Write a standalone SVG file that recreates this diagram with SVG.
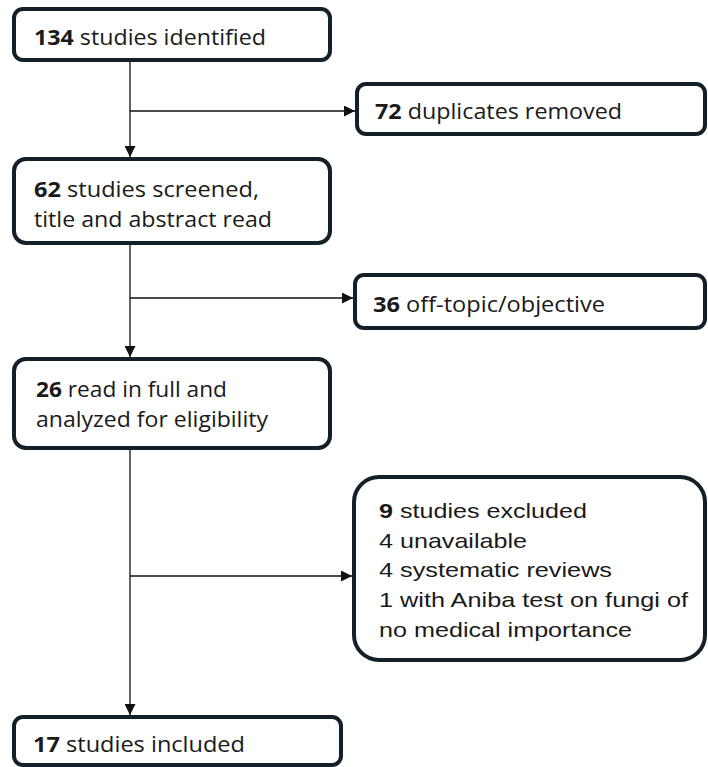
<svg xmlns="http://www.w3.org/2000/svg" width="708" height="767" viewBox="0 0 708 767">
  <style>
    .box { fill: #ffffff; stroke: #13202a; stroke-width: 4; }
    .t { font-family: "Open Sans", "Liberation Sans", sans-serif; font-size: 22px; fill: #1a1a1a; }
    .a { font-family: "Liberation Sans", Arial, sans-serif; font-size: 21px; fill: #1a1a1a; }
    .b { font-weight: bold; }
    .c { stroke: #111111; stroke-width: 1.3; fill: none; }
  </style>
  <defs>
    <marker id="arr" viewBox="0 0 10 10" refX="10" refY="5" markerWidth="11" markerHeight="11" markerUnits="userSpaceOnUse" orient="auto">
      <path d="M0,0 L10,5 L0,10 z" fill="#111111"/>
    </marker>
  </defs>
  <rect width="708" height="767" fill="#ffffff"/>

  <g id="connectors">
    <line class="c" x1="130" y1="62" x2="130" y2="157" marker-end="url(#arr)"/>
    <line class="c" x1="130" y1="111" x2="355" y2="111" marker-end="url(#arr)"/>
    <line class="c" x1="130" y1="245" x2="130" y2="357" marker-end="url(#arr)"/>
    <line class="c" x1="130" y1="298" x2="353" y2="298" marker-end="url(#arr)"/>
    <line class="c" x1="130" y1="450" x2="130" y2="715" marker-end="url(#arr)"/>
    <line class="c" x1="130" y1="576" x2="352" y2="576" marker-end="url(#arr)"/>
  </g>

  <g id="n134">
    <rect class="box" x="14" y="9" width="316" height="51" rx="9"/>
    <text class="t" x="34" y="45" textLength="232" lengthAdjust="spacingAndGlyphs"><tspan class="b">134</tspan> studies identified</text>
  </g>
  <g id="n72">
    <rect class="box" x="357" y="84" width="348" height="50" rx="9"/>
    <text class="t" x="375" y="119" textLength="247" lengthAdjust="spacingAndGlyphs"><tspan class="b">72</tspan> duplicates removed</text>
  </g>
  <g id="n62">
    <rect class="box" x="14" y="159" width="316" height="84" rx="12"/>
    <text class="t" x="34" y="197" textLength="225" lengthAdjust="spacingAndGlyphs"><tspan class="b">62</tspan> studies screened,</text>
    <text class="t" x="34" y="227" textLength="238" lengthAdjust="spacingAndGlyphs">title and abstract read</text>
  </g>
  <g id="n36">
    <rect class="box" x="355" y="275" width="350" height="53" rx="9"/>
    <text class="t" x="373" y="312" textLength="232" lengthAdjust="spacingAndGlyphs"><tspan class="b">36</tspan> off-topic/objective</text>
  </g>
  <g id="n26">
    <rect class="box" x="14" y="359" width="316" height="89" rx="12"/>
    <text class="t" x="36" y="397" textLength="191" lengthAdjust="spacingAndGlyphs"><tspan class="b">26</tspan> read in full and</text>
    <text class="t" x="36" y="427" textLength="232" lengthAdjust="spacingAndGlyphs">analyzed for eligibility</text>
  </g>
  <g id="n9">
    <rect class="box" x="354" y="477" width="351" height="183" rx="25"/>
    <text class="a" x="379" y="518" textLength="208" lengthAdjust="spacingAndGlyphs"><tspan class="b">9</tspan> studies excluded</text>
    <text class="a" x="379" y="548" textLength="148" lengthAdjust="spacingAndGlyphs">4 unavailable</text>
    <text class="a" x="379" y="577" textLength="233" lengthAdjust="spacingAndGlyphs">4 systematic reviews</text>
    <text class="a" x="379" y="607" textLength="309" lengthAdjust="spacingAndGlyphs">1 with Aniba test on fungi of</text>
    <text class="a" x="379" y="637" textLength="253" lengthAdjust="spacingAndGlyphs">no medical importance</text>
  </g>
  <g id="n17">
    <rect class="box" x="14" y="717" width="327" height="48" rx="9"/>
    <text class="t" x="33" y="752" textLength="212" lengthAdjust="spacingAndGlyphs"><tspan class="b">17</tspan> studies included</text>
  </g>
</svg>
